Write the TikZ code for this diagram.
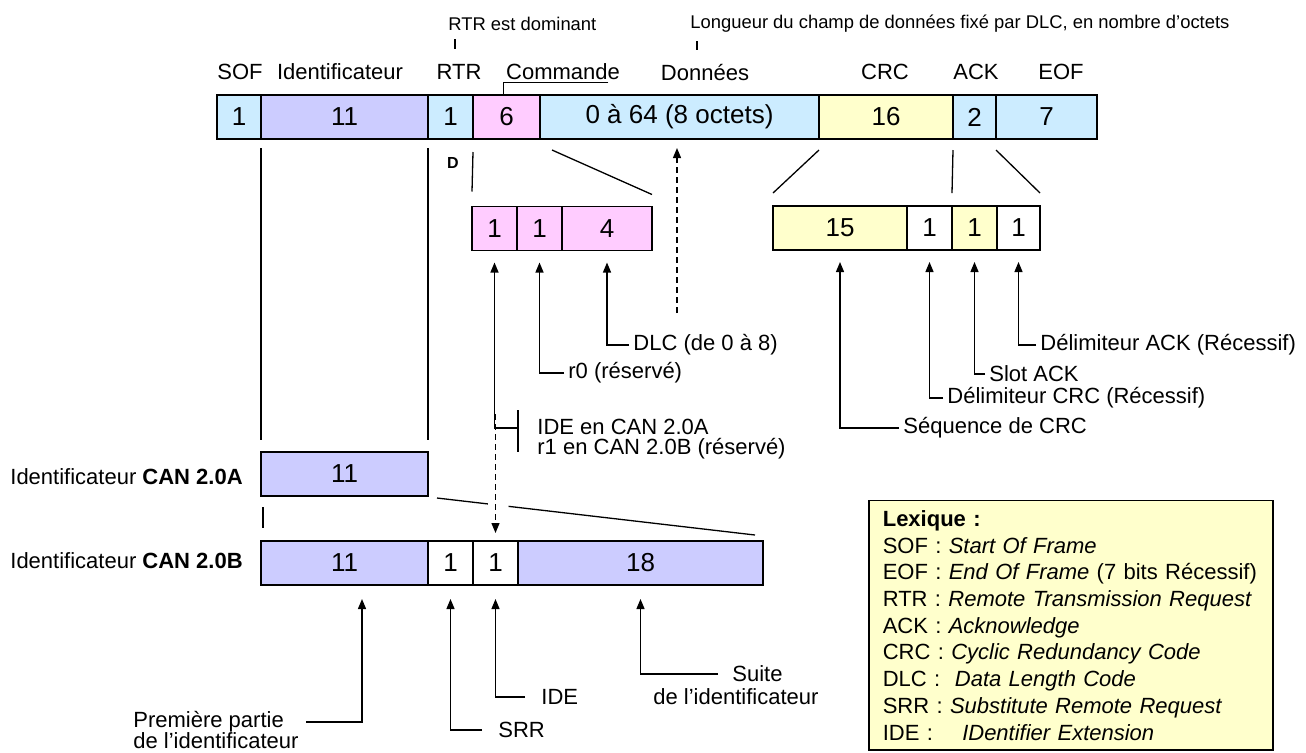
\documentclass[tikz,border=0pt]{standalone}
\usepackage{fontspec}
\setmainfont{Liberation Sans}
\usepackage{tikz}
\usetikzlibrary{positioning,arrows.meta,calc}

\definecolor{bitblue}{RGB}{204,236,255}
\definecolor{bitlav}{RGB}{204,204,255}
\definecolor{bitpink}{RGB}{255,204,255}
\definecolor{bityellow}{RGB}{255,255,204}

\begin{document}
\begin{tikzpicture}[x=0.5pt,y=-0.5pt,
    field/.style={draw,line width=0.9pt,inner sep=0pt,outer sep=0pt,minimum height=22pt,font=\fontsize{13}{15}\selectfont},
    lbl/.style={inner sep=1pt,font=\fontsize{11}{13}\selectfont},
    note/.style={inner sep=2pt,anchor=west,font=\fontsize{11}{13}\selectfont},
    tiny/.style={inner sep=0pt,anchor=west,font=\fontsize{9.2}{11}\selectfont},
    guide/.style={line width=0.65pt},
    callout/.style={line width=0.65pt,-{Triangle[length=5pt,width=4pt]},shorten >=6pt},
    dlink/.style={callout,dash pattern=on 3pt off 2pt}]
    \useasboundingbox (0,0) rectangle (1306,752);

    % Trame de donnees
    \node[field,fill=bitblue,minimum width=22pt] (sof) at (239,117) {1};
    \node[field,fill=bitlav,minimum width=83.5pt,right=0pt of sof] (id) {11};
    \node[field,fill=bitblue,minimum width=22.5pt,right=0pt of id] (rtr) {1};
    \node[field,fill=bitpink,minimum width=33.5pt,right=0pt of rtr] (cmd) {6};
    \node[field,fill=bitblue,minimum width=139.5pt,right=0pt of cmd] (data) {0 à 64 (8 octets)};
    \node[field,fill=bityellow,minimum width=67pt,right=0pt of data] (crc) {16};
    \node[field,fill=bitblue,minimum width=21.5pt,right=0pt of crc] (ack) {2};
    \node[field,fill=bitblue,minimum width=50.5pt,right=0pt of ack] (eof) {7};

    \node[lbl] (lsof) at (240,72) {SOF};
    \node[lbl] (lid) at (340,72) {Identificateur};
    \node[lbl] (lrtr) at (459,72) {RTR};
    \node[lbl] (lcmd) at (563,72) {Commande};
    \node[lbl] (ldata) at (705,72) {Données};
    \node[lbl] (lcrc) at (885,72) {CRC};
    \node[lbl] (lack) at (976,72) {ACK};
    \node[lbl] (leof) at (1061,72) {EOF};
    \draw[guide] ([xshift=-7pt]lcmd.south east) -- (lcmd.south west) -- (lcmd.south west |- cmd.north);

    \node[tiny] (nrtr) at (448,24) {RTR est dominant};
    \draw[guide] ([xshift=3.5pt,yshift=-4pt]nrtr.south west) -- ++(0,10);
    \node[tiny] (nlen) at (690,24) {Longueur du champ de données fixé par DLC, en nombre d'octets};
    \draw[guide] ([xshift=3.5pt,yshift=-4pt]nlen.south west) -- ++(0,9);
    \node[inner sep=0pt,font=\bfseries\fontsize{8}{9}\selectfont] (dom) at (453,163) {D};

    % Champ de commande
    \node[field,fill=bitpink,minimum width=22.5pt] (c1) at (494.5,228.5) {1};
    \node[field,fill=bitpink,minimum width=22.5pt,right=0pt of c1] (c2) {1};
    \node[field,fill=bitpink,minimum width=45pt,right=0pt of c2] (c3) {4};
    \draw[guide] ([yshift=-6.5pt]cmd.south west) -- ([yshift=7.5pt]c1.north west);
    \draw[guide] ([xshift=6pt,yshift=-5.5pt]cmd.south east) -- ([yshift=6pt]c3.north east);

    % Champ CRC et ACK
    \node[field,fill=bityellow,minimum width=67pt] (k1) at (840,228) {15};
    \node[field,fill=white,minimum width=22.5pt,right=0pt of k1] (k2) {1};
    \node[field,fill=bityellow,minimum width=22.5pt,right=0pt of k2] (k3) {1};
    \node[field,fill=white,minimum width=21.5pt,right=0pt of k3] (k4) {1};
    \draw[guide] ([yshift=-5.5pt]crc.south west) -- ([yshift=6.5pt]k1.north west);
    \draw[guide] ([yshift=-5.5pt]crc.south east) -- ([yshift=6.5pt]k3.north west);
    \draw[guide] ([yshift=-5.5pt]ack.south east) -- ([yshift=6.5pt]k4.north east);

    % Identificateurs
    \node[anchor=west,lbl] (l2a) at (8,477) {Identificateur \textbf{CAN 2.0A}};
    \node[anchor=west,lbl] (l2b) at (8,561) {Identificateur \textbf{CAN 2.0B}};
    \node[field,fill=bitlav,minimum width=83.5pt] (a11) at (344.5,474) {11};
    \node[field,fill=bitlav,minimum width=83.5pt] (b11) at (344.5,563) {11};
    \node[field,fill=white,minimum width=22.5pt,right=0pt of b11] (b12) {1};
    \node[field,fill=white,minimum width=22.5pt,right=0pt of b12] (b13) {1};
    \node[field,fill=bitlav,minimum width=122.5pt,right=0pt of b13] (b18) {18};
    \draw[guide] ([yshift=-4.5pt]id.south west) -- ([yshift=6pt]a11.north west);
    \draw[guide] ([yshift=-4.5pt]id.south east) -- ([yshift=6pt]a11.north east);
    \draw[guide] ([xshift=1pt,yshift=-5.5pt]a11.south west) -- ([xshift=1pt,yshift=6.5pt]b11.north west);
    \coordinate (zs) at ([xshift=4.5pt,yshift=-1pt]a11.south east);
    \coordinate (ze) at ([xshift=-4pt,yshift=3pt]b18.north east);
    \draw[guide] (zs) -- ($(zs)!0.16!(ze)$) ($(zs)!0.225!(ze)$) -- (ze);

    % Renvois
    \node[note] (ndlc) at (629,345) {DLC (de 0 à 8)};
    \node[note] (nr0) at (564,373) {r0 (réservé)};
    \node[note] (nidea) at (533,427) {IDE en CAN 2.0A};
    \node[note] (nideb) at (533,449) {r1 en CAN 2.0B (réservé)};
    \draw[callout] (ndlc.west) -| (c3.south);
    \draw[callout] (nr0.west) -| (c2.south);
    \coordinate (idebar) at (518,428);
    \draw[guide] ([yshift=9pt]idebar) -- ([yshift=-12pt]idebar);
    \draw[callout] (idebar) -| (c1.south);
    \draw[dlink,shorten >=4pt] ([yshift=7pt]idebar -| b13) -- (b13.north);
    \coordinate (dlcmark) at (677,313);
    \draw[dlink,shorten >=4.5pt] (dlcmark) -- (dlcmark |- data.south);

    \node[note] (nackd) at (1036,345) {Délimiteur ACK (Récessif)};
    \node[note] (nslot) at (985,374) {Slot ACK};
    \node[note] (ncrcd) at (943,398) {Délimiteur CRC (Récessif)};
    \node[note] (nseq) at (899,428) {Séquence de CRC};
    \draw[callout] (nackd.west) -| (k4.south);
    \draw[callout] (nslot.west) -| (k3.south);
    \draw[callout] (ncrcd.west) -| (k2.south);
    \draw[callout] (nseq.west) -| (k1.south);

    \node[note] (nprem) at (129,722) {Première partie};
    \node[note] (nprem2) at (129,741) {de l'identificateur};
    \node[note] (nsrr) at (494,730) {SRR};
    \node[note] (nide) at (537,697) {IDE};
    \node[note] (nsuite) at (728,674) {Suite};
    \node[note] (nsuite2) at (649,697) {de l'identificateur};
    \draw[callout,shorten >=7pt,shorten <=9pt] (nprem.east) -| ([xshift=8.75pt]b11.south);
    \draw[callout,shorten >=7pt,shorten <=6pt] (nsrr.west) -| (b12.south);
    \draw[callout,shorten >=7pt,shorten <=6pt] (nide.west) -| (b13.south);
    \draw[callout,shorten >=7pt,shorten <=5pt] (nsuite.west) -| (b18.south);

    % Lexique
    \node[draw,line width=0.8pt,fill=bityellow,anchor=south west,inner xsep=7pt,inner ysep=5pt,
          text width=188pt,align=left,font=\fontsize{11}{13.35}\selectfont] (lex) at (868,751)
        {\textbf{Lexique :}\\
         SOF : \textit{Start Of Frame}\\
         EOF : \textit{End Of Frame} (7 bits Récessif)\\
         RTR : \textit{Remote Transmission Request}\\
         ACK : \textit{Acknowledge}\\
         CRC : \textit{Cyclic Redundancy Code}\\
         DLC : \ \textit{Data Length Code}\\
         SRR : \textit{Substitute Remote Request}\\
         IDE : \quad\textit{IDentifier Extension}};
\end{tikzpicture}
\end{document}
